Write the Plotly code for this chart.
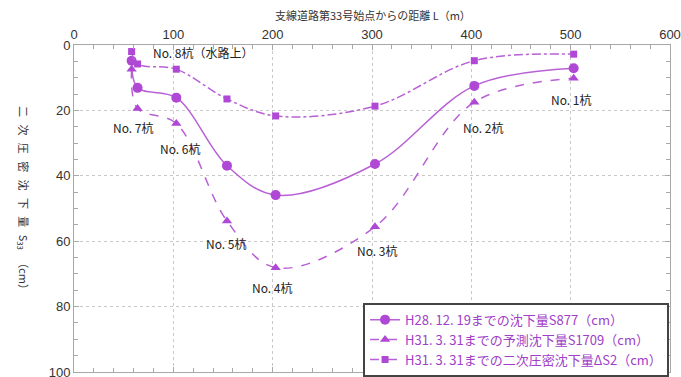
import plotly.graph_objects as go

# Distance from the start of branch road No.33 (m)
dist = [58, 64, 103, 154, 203, 303, 403, 503]

# Settlement up to H28.12.19 (cm)
s877 = [4.8, 13.1, 16.1, 36.9, 45.9, 36.4, 12.5, 7.1]
# Predicted settlement up to H31.3.31 (cm)
s1709 = [7.4, 19.4, 24.0, 53.8, 68.1, 55.6, 17.5, 10.2]
# Secondary consolidation settlement up to H31.3.31 (cm)
ds2 = [2.0, 5.8, 7.4, 16.5, 21.7, 18.7, 4.8, 2.8]

series_names = [
    "H28. 12. 19までの沈下量S877（cm）",
    "H31. 3. 31までの予測沈下量S1709（cm）",
    "H31. 3. 31までの二次圧密沈下量ΔS2（cm）",
]

# Pile labels: text, x, y (data coordinates)
pile_text = ["No. 8杭（水路上）", "No. 7杭", "No. 6杭", "No. 5杭",
             "No. 4杭", "No. 3杭", "No. 2杭", "No. 1杭"]
pile_x = [130, 60, 107, 154, 200, 306, 412, 501]
pile_y = [2.2, 25.1, 31.5, 60.6, 74.1, 62.8, 25.1, 16.8]

PURPLE = "#B048D6"
LINE = "#B860D4"
JP = "Noto Sans CJK JP"

fig = go.Figure()
fig.add_trace(go.Scatter(
    x=dist, y=s877, name=series_names[0], mode="lines+markers",
    line=dict(color=LINE, width=1.5, shape="spline", smoothing=1.0),
    marker=dict(symbol="circle", size=10, color=PURPLE),
))
fig.add_trace(go.Scatter(
    x=dist, y=s1709, name=series_names[1], mode="lines+markers",
    line=dict(color=LINE, width=1.5, dash="dash", shape="spline", smoothing=1.0),
    marker=dict(symbol="triangle-up", size=9, color=PURPLE),
))
fig.add_trace(go.Scatter(
    x=dist, y=ds2, name=series_names[2], mode="lines+markers",
    line=dict(color=LINE, width=1.5, dash="dashdot", shape="spline", smoothing=1.0),
    marker=dict(symbol="square", size=7, color=PURPLE),
))

for t, xv, yv in zip(pile_text, pile_x, pile_y):
    fig.add_annotation(x=xv, y=yv, text=t, showarrow=False,
                       font=dict(family=JP, size=12, color="#222"))

# Axis titles
fig.add_annotation(xref="paper", yref="paper", x=0.502, y=1.092,
                   xanchor="center", yanchor="middle",
                   text="支線道路第33号始点からの距離 L（m）", showarrow=False,
                   font=dict(family=JP, size=11, color="#333"))
fig.add_annotation(xref="paper", yref="paper", x=-0.0856, y=0.523,
                   xanchor="center", yanchor="middle",
                   text="二   次   圧   密   沈   下   量   S<sub>33</sub>   （cm）",
                   textangle=90, showarrow=False,
                   font=dict(family=JP, size=11, color="#333"))

axis_common = dict(
    showline=True, linecolor="#A8A8A8", linewidth=1, mirror="ticks",
    ticks="inside", ticklen=5, tickcolor="#A8A8A8",
    showgrid=True, gridcolor="#C8C8C8", griddash="dot", gridwidth=1,
    zeroline=False, automargin=False, ticklabeloverflow="allow",
    tickfont=dict(family="Liberation Sans", size=13, color="#333"),
)

fig.update_xaxes(
    range=[0, 600], dtick=100, side="top",
    minor=dict(dtick=20, ticks="inside", ticklen=4, tickcolor="#A8A8A8", showgrid=False),
    **axis_common,
)
fig.update_yaxes(
    range=[100, 0], dtick=20,
    minor=dict(dtick=5, ticks="inside", ticklen=4, tickcolor="#A8A8A8", showgrid=False),
    **axis_common,
)

fig.update_layout(
    width=681, height=377,
    margin=dict(l=74, r=11, t=45, b=5, autoexpand=False),
    paper_bgcolor="white", plot_bgcolor="white",
    font=dict(family=JP),
    showlegend=True,
    legend=dict(
        x=0.485, y=0.212, xanchor="left", yanchor="top",
        bgcolor="white", bordercolor="#444", borderwidth=2,
        font=dict(family=JP, size=13, color="#A040C8"),
        itemwidth=30,
        tracegroupgap=0,
    ),
)

fig.write_html("out.html")
